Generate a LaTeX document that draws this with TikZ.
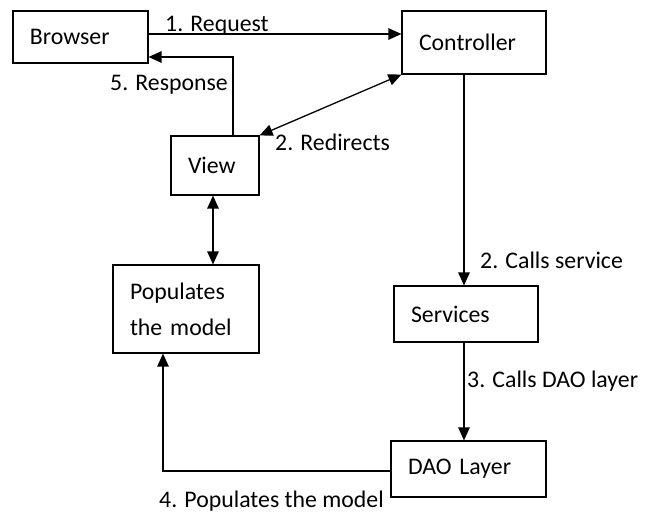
\documentclass[tikz,border=0pt]{standalone}
\usepackage{fontspec}
\setmainfont{Carlito}
\usetikzlibrary{arrows.meta}

\tikzset{
  box/.style n args={2}{draw, line width=1.2pt, minimum height=#2,
    text width=#1, inner xsep=17pt, inner ysep=0pt, align=left,
    font=\fontsize{23.8}{36}\selectfont},
  lbl/.style={anchor=base west, inner sep=0pt, font=\fontsize{23.8}{28}\selectfont},
  tip/.tip={Triangle[length=13pt,width=11.5pt]},
  arr/.style={line width=1.3pt, -tip},
  dbl/.style={line width=1.3pt, tip-tip}
}

\begin{document}
\begin{tikzpicture}[x=1pt, y=-1pt]
  \useasboundingbox (0,0) rectangle (659,512);

  % component boxes
  \node[box={101pt}{52pt}]  (browser)    at (80.5,37)  {Browser};
  \node[box={110pt}{63pt}]  (controller) at (474,42.5) {Controller};
  \node[box={54pt}{59pt}]   (view)       at (215,165.5){View};
  \node[box={112pt}{88pt}]  (model)      at (186,309)  {Populates\\the model};
  \node[box={110pt}{56pt}]  (services)   at (466,314)  {Services};
  \node[box={121pt}{56pt}]  (dao)        at (468.5,469){DAO Layer};

  % connectors
  \coordinate (rq) at ([yshift=3pt]browser.east);
  \draw[arr] (rq) -- (rq -| controller.west);
  \draw[arr] ([xshift=18pt]view.north) |- ([yshift=-20pt]browser.east);
  \draw[dbl] (view.north east) -- (controller.south west);
  \coordinate (vm) at ([xshift=-2pt]view.south);
  \draw[dbl] (vm) -- (vm |- model.north);
  \coordinate (cs) at ([xshift=-2pt]services.north);
  \draw[arr] (cs |- controller.south) -- (cs);
  \coordinate (sd) at ([xshift=-2pt]services.south);
  \draw[arr] (sd) -- (sd |- dao.north);
  \draw[arr] ([yshift=-2pt]dao.west) -| ([xshift=-23pt]model.south);

  % step labels
  \node[lbl] (l1) at (165,31)  {1. Request};
  \node[lbl] (l5) at (110,90)  {5. Response};
  \node[lbl] (l2) at (275,150) {2. Redirects};
  \node[lbl] (l2b) at (480,268) {2. Calls service};
  \node[lbl] (l3) at (467,387) {3. Calls DAO layer};
  \node[lbl] (l4) at (159,507) {4. Populates the model};
\end{tikzpicture}
\end{document}
